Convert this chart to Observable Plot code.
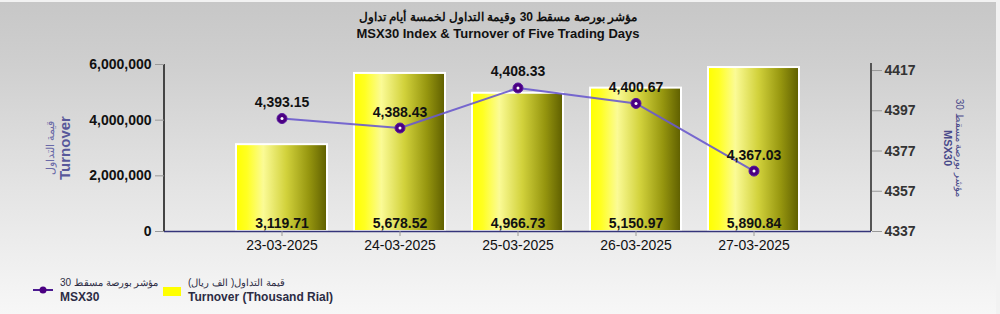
<!DOCTYPE html>
<html>
<head>
<meta charset="utf-8">
<script src="https://cdn.jsdelivr.net/npm/d3@7"></script>
<script src="https://cdn.jsdelivr.net/npm/@observablehq/plot@0.6"></script>
<style>
  html, body { margin: 0; padding: 0; }
  body { width: 1000px; height: 314px; overflow: hidden; background: #f2f2f2; font-family: "Liberation Sans", Arial, sans-serif; }
  #wrap { position: relative; width: 996px; height: 312px; margin-top: 2px; background: linear-gradient(#c7c7c7 0%, #cfcfcf 20%, #e4e4e4 60%, #f7f7f7 100%); }
  .t { position: absolute; left: 0; width: 996px; text-align: center; font-weight: bold; color: #111; white-space: nowrap; }
  #chart { position: absolute; left: 0; top: 46px; }
  .lg { position: absolute; font-size: 12px; color: #2c2c44; white-space: nowrap; line-height: 15px; }
  .lg .ar { font-size: 10px; font-weight: normal; }
  .lg .en { font-weight: bold; }
</style>
</head>
<body>
<div id="wrap">
  <div class="t" style="top:8px;font-size:12px;" dir="rtl">مؤشر بورصة مسقط 30 وقيمة التداول لخمسة أيام تداول</div>
  <div class="t" style="top:24px;font-size:13px;">MSX30 Index &amp; Turnover of Five Trading Days</div>
  <div id="chart"></div>
  <svg style="position:absolute;left:30px;top:281px" width="26" height="14">
    <line x1="3" y1="7" x2="23" y2="7" stroke="#4b1a90" stroke-width="2"></line>
    <circle cx="13" cy="7" r="3.5" fill="#4b0082"></circle>
  </svg>
  <div class="lg" style="left:60px;top:273px;"><div class="ar">مؤشر بورصة مسقط 30</div><div class="en">MSX30</div></div>
  <div style="position:absolute;left:163px;top:285px;width:18px;height:9px;background:#ffff00;"></div>
  <div class="lg" style="left:188px;top:273px;"><div class="ar">قيمة التداول( الف ريال)</div><div class="en">Turnover (Thousand Rial)</div></div>
</div>
<script>
const dates = ["23-03-2025", "24-03-2025", "25-03-2025", "26-03-2025", "27-03-2025"];
const turnover = [3119.71, 5678.52, 4966.73, 5150.97, 5890.84]; // thousand rial
const msx30 = [4393.15, 4388.43, 4408.33, 4400.67, 4367.03];
const leftTicks = [0, 2000000, 4000000, 6000000];
const rightTicks = [4337, 4357, 4377, 4397, 4417];
const rightDomain = [4337, 4420];
const leftDomain = [0, 6000000];

const rows = dates.map((d, i) => ({date: d, turnover: turnover[i], rial: turnover[i] * 1000, msx: msx30[i]}));
const idx = d3.scaleLinear().domain(rightDomain).range(leftDomain);
const fmt2 = d3.format(",.2f");
const ns = "http://www.w3.org/2000/svg";

const defsMark = () => {
  const defs = document.createElementNS(ns, "defs");
  defs.innerHTML = `<linearGradient id="barGrad" x1="0" y1="0" x2="1" y2="0">
    <stop offset="0" stop-color="#ffff00"/>
    <stop offset="0.12" stop-color="#ffff22"/>
    <stop offset="0.3" stop-color="#fbfb96"/>
    <stop offset="0.55" stop-color="#d2d23c"/>
    <stop offset="0.8" stop-color="#96960f"/>
    <stop offset="1" stop-color="#5e5e00"/>
  </linearGradient>`;
  return defs;
};

const axisLines = (index, scales, values, dim) => {
  const g = document.createElementNS(ns, "g");
  const y0 = scales.y(leftDomain[0]), y1 = scales.y(leftDomain[1]);
  const xl = dim.marginLeft, xr = dim.width - dim.marginRight;
  const mk = (x1, ya, x2, yb, c, w) => {
    const l = document.createElementNS(ns, "line");
    l.setAttribute("x1", x1); l.setAttribute("y1", ya); l.setAttribute("x2", x2); l.setAttribute("y2", yb);
    l.setAttribute("stroke", c); l.setAttribute("stroke-width", w);
    g.appendChild(l);
  };
  mk(xl, y0, xl, y1, "#444", 2);
  mk(xr, y0, xr, y1 - 1, "#555", 2);
  return g;
};

const chart = Plot.plot({
  width: 996,
  height: 212,
  marginLeft: 164,
  marginRight: 125,
  marginTop: 16,
  marginBottom: 29,
  style: {background: "transparent", fontFamily: "'Liberation Sans', Arial, sans-serif", overflow: "visible"},
  x: {type: "band", domain: dates, paddingInner: 0.23, paddingOuter: 0.61, label: null},
  y: {domain: leftDomain, label: null},
  marks: [
    defsMark,
    Plot.barY(rows, {x: "date", y: "rial", fill: "url(#barGrad)", stroke: "white", strokeWidth: 2}),
    Plot.text(rows, {x: "date", y: 0, text: d => fmt2(d.turnover), dy: -8, fontSize: 14, fontWeight: "bold", fill: "#111"}),
    Plot.ruleY([0], {stroke: "#35357a", strokeWidth: 1.5}),
    axisLines,
    Plot.axisY({ticks: leftTicks, anchor: "left", tickFormat: d3.format(","), tickSize: 9, tickPadding: 4, fontSize: 14, fontWeight: "bold", stroke: "#999", fill: "#111", label: null}),
    Plot.axisY(rightTicks.map(v => idx(v)), {anchor: "right", tickFormat: d => String(Math.round(idx.invert(d))), tickSize: 10, tickPadding: 3, fontSize: 14, fontWeight: "bold", stroke: "#999", fill: "#333", label: null}),
    Plot.axisX({anchor: "bottom", tickSize: 5, tickPadding: 4, fontSize: 14, stroke: "#999", fill: "#111", label: null}),
    Plot.lineY(rows, {x: "date", y: d => idx(d.msx), stroke: "#6a5acd", strokeWidth: 2, strokeOpacity: 0.9}),
    Plot.dot(rows, {x: "date", y: d => idx(d.msx), r: 5, fill: "#4b0082", stroke: "#5a1aa0", strokeWidth: 1}),
    Plot.dot(rows, {x: "date", y: d => idx(d.msx), r: 1.5, fill: "white"}),
    Plot.text(rows, {x: "date", y: d => idx(d.msx), text: d => fmt2(d.msx), dy: -16, fontSize: 14, fontWeight: "bold", fill: "#111"}),
    Plot.text(["قيمة التداول"], {frameAnchor: "left", textAnchor: "middle", dx: -114, rotate: -90, fontSize: 11, fill: "#6a6aa8"}),
    Plot.text(["Turnover"], {frameAnchor: "left", textAnchor: "middle", dx: -99, rotate: -90, fontSize: 15, fontWeight: "bold", fill: "#58589a"}),
    Plot.text(["MSX30"], {frameAnchor: "right", textAnchor: "middle", dx: 76, rotate: 90, fontSize: 11, fontWeight: "bold", fill: "#4a4a8a"}),
    Plot.text(["مؤشر بورصة مسقط 30"], {frameAnchor: "right", textAnchor: "middle", dx: 88, rotate: 90, fontSize: 10, fill: "#4a4a8a"})
  ]
});
document.getElementById("chart").appendChild(chart);
</script>
</body>
</html>
